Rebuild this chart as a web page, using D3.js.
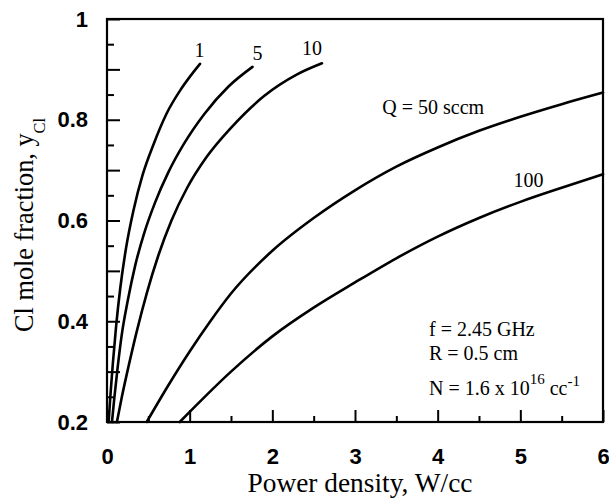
<!DOCTYPE html>
<html>
<head>
<meta charset="utf-8">
<script src="https://cdn.jsdelivr.net/npm/d3@7"></script>
<style>
  body { margin: 0; background: #fff; }
  text { fill: #000; }
</style>
</head>
<body>
<svg id="chart" width="609" height="499"></svg>
<script>
// Cl mole fraction vs. microwave power density, one curve per flow rate Q (sccm)
const flowLabels = ["1", "5", "10", "Q = 50 sccm", "100"];

const powerQ1   = [0.02, 0.04, 0.07, 0.11, 0.16, 0.23, 0.32, 0.43, 0.56, 0.72, 0.90, 1.125];
const fracQ1    = [0.20, 0.25, 0.315, 0.39, 0.465, 0.545, 0.62, 0.69, 0.75, 0.812, 0.862, 0.911];

const powerQ5   = [0.06, 0.09, 0.13, 0.18, 0.25, 0.34, 0.45, 0.58, 0.74, 0.93, 1.18, 1.47, 1.76];
const fracQ5    = [0.20, 0.25, 0.31, 0.375, 0.44, 0.51, 0.575, 0.635, 0.695, 0.752, 0.812, 0.866, 0.905];

const powerQ10  = [0.12, 0.18, 0.26, 0.36, 0.48, 0.62, 0.78, 0.97, 1.20, 1.50, 1.90, 2.30, 2.60];
const fracQ10   = [0.20, 0.25, 0.31, 0.38, 0.455, 0.53, 0.6, 0.665, 0.725, 0.784, 0.847, 0.89, 0.912];

const powerQ50  = [0.48, 0.75, 1.0, 1.25, 1.5, 2.0, 2.5, 3.0, 3.5, 4.0, 4.5, 5.0, 5.5, 6.0];
const fracQ50   = [0.20, 0.275, 0.34, 0.40, 0.455, 0.54, 0.605, 0.66, 0.707, 0.745, 0.778, 0.806, 0.831, 0.854];

const powerQ100 = [0.88, 1.0, 1.5, 2.0, 2.5, 3.0, 3.5, 4.0, 4.5, 5.0, 5.5, 6.0];
const fracQ100  = [0.20, 0.22, 0.30, 0.37, 0.427, 0.477, 0.525, 0.568, 0.605, 0.637, 0.665, 0.692];

const xTicks = [0, 1, 2, 3, 4, 5, 6];
const xMinorTicks = [0.5, 1.5, 2.5, 3.5, 4.5, 5.5];
const yTicks = [0.2, 0.4, 0.6, 0.8, 1];
const yTickLabels = ["0.2", "0.4", "0.6", "0.8", "1"];
const yMidTicks = [0.3, 0.5, 0.7, 0.9];
const yMinorTicks = [0.25, 0.35, 0.45, 0.55, 0.65, 0.75, 0.85, 0.95];

const notes = ["f = 2.45 GHz", "R = 0.5 cm"];

const svg = d3.select("#chart");
const margin = { left: 107, right: 6, top: 19, bottom: 77 };
const W = 609, H = 499;
const x = d3.scaleLinear().domain([0, 6]).range([margin.left, W - margin.right]);
const y = d3.scaleLinear().domain([0.2, 1]).range([H - margin.bottom, margin.top]);

const serif = "'Liberation Serif', 'Times New Roman', serif";
const sans = "'Liberation Sans', Arial, Helvetica, sans-serif";

// ticks point into the plot
function styleAxis(g) {
  g.select(".domain").remove();
  g.selectAll(".tick line").attr("stroke", "#000").attr("stroke-width", 2);
}
function styleLabels(g) {
  g.selectAll("text").attr("font-family", sans).attr("font-size", 22)
    .attr("font-weight", "bold").attr("fill", "#000");
}
svg.append("g").attr("transform", `translate(0,${y(0.2)})`)
  .call(d3.axisBottom(x).tickValues(xTicks).tickSize(-12).tickPadding(26)
    .tickFormat(d3.format("d")))
  .call(styleAxis).call(styleLabels);
svg.append("g").attr("transform", `translate(0,${y(0.2)})`)
  .call(d3.axisBottom(x).tickValues(xMinorTicks).tickSize(-6).tickFormat(""))
  .call(styleAxis);

svg.append("g").attr("transform", `translate(${x(0)},0)`)
  .call(d3.axisLeft(y).tickValues(yTicks).tickSize(-13).tickPadding(19)
    .tickFormat((d, i) => yTickLabels[i]))
  .call(styleAxis).call(styleLabels);
svg.append("g").attr("transform", `translate(${x(0)},0)`)
  .call(d3.axisLeft(y).tickValues(yMidTicks).tickSize(-13).tickFormat(""))
  .call(styleAxis);
svg.append("g").attr("transform", `translate(${x(0)},0)`)
  .call(d3.axisLeft(y).tickValues(yMinorTicks).tickSize(-7).tickFormat(""))
  .call(styleAxis);

// frame
svg.append("rect")
  .attr("x", x(0)).attr("y", y(1))
  .attr("width", x(6) - x(0)).attr("height", y(0.2) - y(1))
  .attr("fill", "none").attr("stroke", "#000").attr("stroke-width", 2.2);

// curves
const series = [
  [powerQ1, fracQ1], [powerQ5, fracQ5], [powerQ10, fracQ10],
  [powerQ50, fracQ50], [powerQ100, fracQ100]
];
const line = d3.line().x(d => x(d[0])).y(d => y(d[1])).curve(d3.curveMonotoneX);
svg.append("g").selectAll("path")
  .data(series.map(([px, fy]) => px.map((p, i) => [p, fy[i]])))
  .join("path")
  .attr("d", line)
  .attr("fill", "none").attr("stroke", "#000").attr("stroke-width", 2.6)
  .attr("stroke-linecap", "round");

// curve labels
const labelPos = [
  { px: 1.12, fy: 0.925, anchor: "middle" },
  { px: 1.82, fy: 0.919, anchor: "middle" },
  { px: 2.48, fy: 0.929, anchor: "middle" },
  { px: 3.33, fy: 0.812, anchor: "start" },
  { px: 5.1, fy: 0.666, anchor: "middle" }
];
svg.append("g").selectAll("text")
  .data(flowLabels)
  .join("text")
  .attr("x", (d, i) => x(labelPos[i].px))
  .attr("y", (d, i) => y(labelPos[i].fy))
  .attr("text-anchor", (d, i) => labelPos[i].anchor)
  .attr("font-family", serif).attr("font-size", 20)
  .text(d => d);

// operating conditions
const noteG = svg.append("g").attr("font-family", serif).attr("font-size", 20);
noteG.selectAll("text.note").data(notes).join("text").attr("class", "note")
  .attr("x", 429).attr("y", (d, i) => 336 + i * 24).text(d => d);
const nText = noteG.append("text").attr("x", 429).attr("y", 395);
nText.append("tspan").text("N = 1.6 x 10");
nText.append("tspan").attr("dy", -11).attr("font-size", 15).text("16");
nText.append("tspan").attr("dy", 11).text(" cc");
nText.append("tspan").attr("dy", -9).attr("font-size", 15).text("-1");

// axis titles, sized to their span along the axes
function fitWidth(sel, target) {
  const w = sel.node().getComputedTextLength();
  const fs = parseFloat(sel.attr("font-size"));
  sel.attr("font-size", (fs * target / w).toFixed(2));
}
const xTitle = svg.append("text")
  .attr("x", 360).attr("y", 492)
  .attr("text-anchor", "middle")
  .attr("font-family", serif).attr("font-size", 26)
  .text("Power density, W/cc");
fitWidth(xTitle, 225);

const yTitle = svg.append("text")
  .attr("transform", `translate(33,225) rotate(-90)`)
  .attr("text-anchor", "middle")
  .attr("font-family", serif).attr("font-size", 26);
yTitle.append("tspan").text("Cl mole fraction, y");
yTitle.append("tspan").attr("dy", 12).attr("font-size", "0.62em").text("Cl");
fitWidth(yTitle, 214);
</script>
</body>
</html>
